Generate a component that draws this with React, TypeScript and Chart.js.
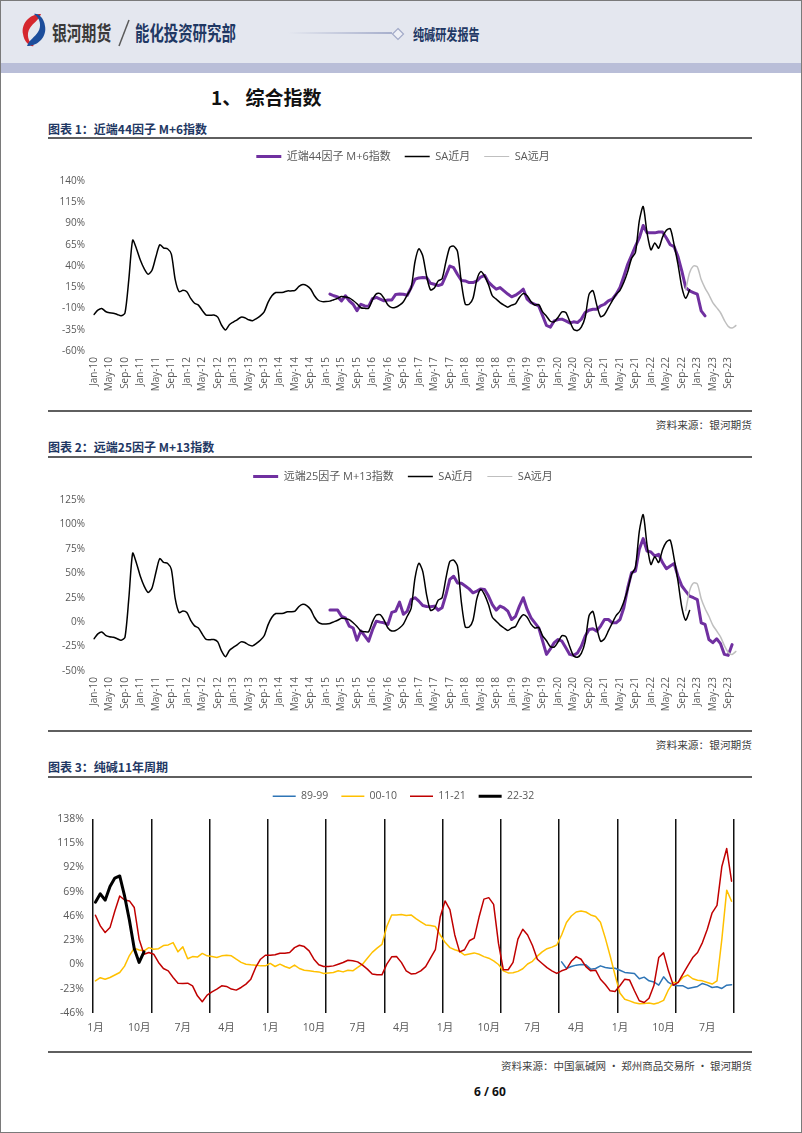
import React, { useEffect, useRef } from 'react';
import { Chart, registerables } from 'chart.js';

Chart.register(...registerables);

const LATIN_FONT = "'Open Sans', 'Noto Sans CJK SC', sans-serif";
const CJK_FONT = "'Noto Sans CJK SC', 'Open Sans', sans-serif";
const TICK_COLOR = '#595959';

// ---------- Charts 1 & 2 : monthly categories Jan-10 .. Nov-23 ----------
const MONTH_ABBR = ['Jan', 'Feb', 'Mar', 'Apr', 'May', 'Jun', 'Jul', 'Aug', 'Sep', 'Oct', 'Nov', 'Dec'];
const YEARS = ['10', '11', '12', '13', '14', '15', '16', '17', '18', '19', '20', '21', '22', '23'];
const CATEGORIES = YEARS.flatMap((y) => MONTH_ABBR.map((m) => `${m}-${y}`)).slice(0, 167);
const LABEL_EVERY = 4;

// SA近月 (%), Jan-10 .. Nov-22
const SA_NEAR = [
  -17, -12, -10, -13.5, -15, -15.5, -17, -18.5, -15.5, 24, 70.5, 60,
  46.7, 36.6, 30.3, 35, 50.8, 65, 61.2, 60.3, 54, 24, 9.8, 11.4,
  9.8, 1.9, -3.8, -6, -12.3, -17.7, -18, -17.7, -20.2, -29.7, -35.3, -29,
  -25.9, -23.3, -20.2, -20.8, -23.3, -24.3, -21.8, -18.6, -13.9, -2.8, 5, 8.8,
  8.8, 9.2, 10.7, 10.7, 11.4, 16, 18.3, 17, 12.9, 5, -0.3, -1.9,
  -1.9, -1.3, 0.3, 1.9, 4, 3.5, 2.5, -0.6, -4.4, -9.1, -9.8, -9.8,
  0.3, 7.3, 7.6, 2, -6, -9, -8.5, -6, -2, 6, 14, 45,
  60.3, 52, 28, 12, 14, 22.5, 25, 45, 62, 63.4, 57, 20,
  -5, -5, 2, 24, 33.4, 28, 18, 5, 1, -3, -6, -8.5,
  -6, -4.4, 3, 7.5, 5, -2, -6, -5.4, -14, -19, -25, -25.6,
  -20.2, -13.9, -14.8, -24.9, -34.4, -36, -32, -20, 6.6, 11, -6, -19.6,
  -17, -9, -1, 6.6, 11.4, 20.8, 33.4, 49, 56, 93, 110, 79,
  59, 67, 61, 74, 82, 84, 65, 42, 15, 2, 12,
];

// SA远月 (%), starting Oct-22
const SA_FAR_START = 153;
const SA_FAR = [12, 32, 40, 39, 24, 14, 6, -3, -9, -15, -24, -31, -33, -30];

// factor indices (%), starting Feb-15
const INDEX_START = 61;
const NEAR44_M6 = [
  7, 5, 3.7, -1, 5, -1, -5, -12.5, -5, -7,
  -7.5, 1.5, 3, 1, -1, 0, 0, 6.5, 7, 6.8,
  5.6, 14.6, 24.4, 26, 26.5, 26.3, 19.7, 18.5, 17, 18.5,
  29, 40, 38, 30, 23, 22.4, 20.5, 20.5, 22.4, 27,
  29, 21, 16.6, 12.7, 14.6, 10.7, 7, 3.7, 5.6, 8.7,
  12.7, 1, -3, -5, -7, -18.6, -30, -32, -24.5, -23,
  -22.5, -24.5, -27, -25.7, -26.5, -22.5, -14.7, -12, -10.8, -10.8,
  -7, -5, -1, 1, 6.8, 14.6, 28, 42, 52.5, 63.5,
  73, 87.7, 79, 79, 79, 80, 80, 73, 65, 62.7,
  51, 34, 14.6, 10.7, 8.7, 6.8, -12.8, -18.6,
];
const FAR25_M13 = [
  12.3, 12.3, 12.3, 6, 4.4, -4, -6, -18.5, -9, -14,
  -19.5, -8, 1, 0, -0.7, -2.4, 10, 11.3, 20.5, 8,
  11.3, 23, 25, 21.5, 17, 16, 15.7, 16.4, 12.3, 14.7,
  28, 43.8, 47, 40, 39.7, 37, 34, 30, 31.8, 34,
  33.5, 26.7, 18, 12.3, 16.4, 14.7, 11.3, 2.7, 6, 16.4,
  25, 13, 4.4, -0.7, -5.8, -19.5, -33, -27.4, -21, -17.8,
  -19.5, -26.3, -33, -34, -31.5, -24.6, -14.4, -7.5, -6.8, -9.2,
  -4, 2.7, 2.7, -0.7, -0.7, 2.7, 14.7, 35, 50.6, 52.3,
  74.5, 85.5, 72.8, 71.8, 67.7, 69.4, 61, 54.7, 57.5, 60,
  47, 37, 31.8, 26.7, 25, 23, -0.7, -2.4, -17.8, -21,
  -17, -22, -33, -34, -23,
];

// ---------- Chart 3 : 11-year cycles (132 months) ----------
const CYCLE_LEN = 132;
const CYCLE_LABELS = Array.from({ length: CYCLE_LEN }, (_, i) => `${(i % 12) + 1}月`);
const CYCLE_LABEL_EVERY = 9;
const CYCLE_GRID_EVERY = 12;

const CYCLE_89_99_START = 96;
const CYCLE_89_99 = [
  2.5, -3.8, -1.9, -0.6, 0, -0.3, -4.4, -3.8, -1.3, -2.8, -3.5, -3.5,
  -5.5, -7.5, -8, -8.5, -13.5, -12, -15.5, -16.5, -19.6, -11.7, -17, -19.6,
  -20.2, -20.2, -22.7, -21.8, -20.8, -18, -19.6, -21.8, -21.1, -22.7, -19.6, -19.2,
];
// 2000-2009 (2010 continues with SA_NEAR)
const CYCLE_00_09 = [
  -15.5, -12.5, -14, -12.3, -10, -7.6, -1.5, 8.5, 15.5, 13.7, 13, 16,
  14.5, 15, 18, 18.6, 20.8, 12, 16.7, 5.5, 7.5, 7, 10.5, 8.2,
  7.5, 6.6, 8.2, 8.8, 8.2, 5, 2, 0.3, -0.3, -0.6, -1.3, -1.3,
  1, -1.9, 0.3, -1.9, -3.5, -0.6, -3.8, -5.4, -6, -6.6, -7, -8.5,
  -8, -7.6, -6, -7, -5.4, -6, -2.8, 0.3, 6, 11.5, 15.5, 19,
  36, 47, 47, 47.5, 46.5, 47, 43.5, 40.5, 37.5, 37, 36, 28,
  21, 16, 14, 12.5, 9, 10, 11, 9.7, 7.5, 6, 3.5, 0,
  -6, -8, -7.8, -6.5, -4, 0.5, 3, 8, 12, 15, 16.5, 18.5,
  28, 39.8, 46, 49.8, 50.8, 49.8, 47, 45.5, 40, 25, 8, -10,
  -27, -33, -34.5, -36.3, -37.3, -37, -36.6, -37.5, -36.2, -34, -24, -17,
];
const CYCLE_00_10 = CYCLE_00_09.concat(SA_NEAR.slice(0, 12));
const CYCLE_11_21 = SA_NEAR.slice(12, 144);
const CYCLE_22_32 = SA_NEAR.slice(144);

function placed(start: number, values: number[], total: number): (number | null)[] {
  const out: (number | null)[] = new Array(total).fill(null);
  values.forEach((v, i) => {
    out[start + i] = v;
  });
  return out;
}

type Series = { label: string; values: (number | null)[]; color: string; width: number; legendWidth: number; tension: number };
type Layout = {
  padR: number; yWidth: number; xHeight: number;
  legendFont: number; legendPad: number; legendExtra: number; legendShift: number; boxWidth: number;
  yPad: number; xPad: number; tickFont: number;
};
type XAxis = { tick: (i: number) => string; rotation: number; offset: boolean; gridEvery: number | null };

// enlarges the space under the legend and moves the legend sideways
function legendTweak(extra: number, shift: number) {
  return {
    id: 'legendTweak',
    beforeInit(chart: any) {
      const legend = chart.legend;
      if (!legend) return;
      const fit = legend.fit;
      legend.fit = function () {
        fit.call(this);
        this.height += extra;
      };
    },
    afterLayout(chart: any) {
      const legend = chart.legend;
      if (!legend) return;
      legend.left += shift;
      legend.right += shift;
    },
  };
}

function makeConfig(labels: string[], series: Series[], y: { min: number; max: number; step: number }, L: Layout, X: XAxis): any {
  const ordered = [...series].reverse();
  const datasets = ordered.map((s) => ({
    label: s.label,
    data: s.values,
    borderColor: s.color,
    backgroundColor: s.color,
    borderWidth: s.width,
    pointRadius: 0,
    pointHoverRadius: 0,
    pointHitRadius: 0,
    tension: s.tension,
    fill: false,
    spanGaps: false,
    borderJoinStyle: 'round',
    borderCapStyle: 'round',
  }));
  const legendWidths = ordered.map((s) => s.legendWidth);
  const isGrid = (c: any) => X.gridEvery !== null && (c.index === undefined || c.index % (X.gridEvery as number) === 0);
  return {
    type: 'line',
    data: { labels, datasets },
    options: {
      responsive: false,
      animation: false,
      devicePixelRatio: 1,
      events: [],
      layout: { padding: { left: 0, right: L.padR, top: 0, bottom: 0 } },
      plugins: {
        tooltip: { enabled: false },
        legend: {
          display: true,
          position: 'top',
          reverse: true,
          labels: {
            usePointStyle: true,
            pointStyle: 'line',
            pointStyleWidth: L.boxWidth,
            boxHeight: L.legendFont,
            padding: L.legendPad,
            color: TICK_COLOR,
            font: { family: LATIN_FONT, size: L.legendFont },
            generateLabels: (chart: any) =>
              chart.data.datasets.map((ds: any, i: number) => ({
                text: ds.label,
                fillStyle: ds.borderColor,
                strokeStyle: ds.borderColor,
                lineWidth: legendWidths[i],
                pointStyle: 'line',
                rotation: 0,
                hidden: false,
                lineCap: 'butt',
                fontColor: TICK_COLOR,
                datasetIndex: i,
              })),
          },
        },
      },
      scales: {
        x: {
          type: 'category',
          offset: X.offset,
          grid: X.gridEvery
            ? {
                display: true,
                offset: true,
                drawTicks: false,
                color: (c: any) => (isGrid(c) ? '#111111' : 'rgba(0,0,0,0)'),
                lineWidth: (c: any) => (isGrid(c) ? 1.5 : 0),
              }
            : { display: false, drawTicks: false },
          border: { display: false },
          ticks: {
            autoSkip: false,
            maxRotation: X.rotation,
            minRotation: X.rotation,
            padding: L.xPad,
            color: TICK_COLOR,
            font: { family: LATIN_FONT, size: L.tickFont },
            callback: (_v: any, i: number) => X.tick(i),
          },
          afterFit: (s: any) => {
            s.height = L.xHeight;
          },
        },
        y: {
          type: 'linear',
          min: y.min,
          max: y.max,
          grid: { display: false, drawTicks: false },
          border: { display: false },
          ticks: {
            stepSize: y.step,
            padding: L.yPad,
            color: TICK_COLOR,
            font: { family: LATIN_FONT, size: L.tickFont },
            callback: (v: any) => `${v}%`,
          },
          afterFit: (s: any) => {
            s.width = L.yWidth;
          },
        },
      },
    },
    plugins: [legendTweak(L.legendExtra, L.legendShift)],
  };
}

function ChartCanvas({ left, top, width, height, build }: { left: number; top: number; width: number; height: number; build: () => any }) {
  const ref = useRef<HTMLCanvasElement | null>(null);
  useEffect(() => {
    if (!ref.current) return;
    const chart = new Chart(ref.current, build());
    return () => chart.destroy();
  }, []);
  return (
    <canvas
      ref={ref}
      width={width}
      height={height}
      style={{ position: 'absolute', left, top, width, height, display: 'block' }}
    />
  );
}

const N = CATEGORIES.length;
const monthTick = (i: number) => (i % LABEL_EVERY === 0 ? CATEGORIES[i] : '');

function chart1() {
  const series: Series[] = [
    { label: '近端44因子 M+6指数', values: placed(INDEX_START, NEAR44_M6, N), color: '#7030a0', width: 3, legendWidth: 3, tension: 0 },
    { label: 'SA近月', values: placed(0, SA_NEAR, N), color: '#000000', width: 1.5, legendWidth: 1.5, tension: 0.25 },
    { label: 'SA远月', values: placed(SA_FAR_START, SA_FAR, N), color: '#bfbfbf', width: 1.5, legendWidth: 1, tension: 0.25 },
  ];
  return makeConfig(CATEGORIES, series, { min: -60, max: 140, step: 25 },
    { padR: 24, yWidth: 54, xHeight: 46, legendFont: 11, legendPad: 14, legendExtra: 9, legendShift: 15, boxWidth: 25, yPad: 9, xPad: 6, tickFont: 10 },
    { tick: monthTick, rotation: 90, offset: false, gridEvery: null });
}

function chart2() {
  const series: Series[] = [
    { label: '远端25因子 M+13指数', values: placed(INDEX_START, FAR25_M13, N), color: '#7030a0', width: 3, legendWidth: 3, tension: 0 },
    { label: 'SA近月', values: placed(0, SA_NEAR, N), color: '#000000', width: 1.5, legendWidth: 1.5, tension: 0.25 },
    { label: 'SA远月', values: placed(SA_FAR_START, SA_FAR, N), color: '#bfbfbf', width: 1.5, legendWidth: 1, tension: 0.25 },
  ];
  return makeConfig(CATEGORIES, series, { min: -50, max: 125, step: 25 },
    { padR: 24, yWidth: 54, xHeight: 46, legendFont: 11, legendPad: 14, legendExtra: 8, legendShift: 15, boxWidth: 25, yPad: 9, xPad: 6, tickFont: 10 },
    { tick: monthTick, rotation: 90, offset: false, gridEvery: null });
}

function chart3() {
  const series: Series[] = [
    { label: '89-99', values: placed(CYCLE_89_99_START, CYCLE_89_99, CYCLE_LEN), color: '#2e75b6', width: 1.5, legendWidth: 1.5, tension: 0 },
    { label: '00-10', values: placed(0, CYCLE_00_10, CYCLE_LEN), color: '#ffc000', width: 1.5, legendWidth: 1.5, tension: 0 },
    { label: '11-21', values: placed(0, CYCLE_11_21, CYCLE_LEN), color: '#c00000', width: 1.5, legendWidth: 1.5, tension: 0 },
    { label: '22-32', values: placed(0, CYCLE_22_32, CYCLE_LEN), color: '#000000', width: 3, legendWidth: 3, tension: 0 },
  ];
  return makeConfig(CYCLE_LABELS, series, { min: -46, max: 138, step: 23 },
    { padR: 26, yWidth: 53, xHeight: 30, legendFont: 10.5, legendPad: 13, legendExtra: 7.5, legendShift: 16.5, boxWidth: 23, yPad: 9, xPad: 9, tickFont: 10.5 },
    { tick: (i) => (i % CYCLE_LABEL_EVERY === 0 ? CYCLE_LABELS[i] : ''), rotation: 0, offset: true, gridEvery: CYCLE_GRID_EVERY });
}

function Txt({ x, cy, size, weight = 400, color = '#000', scaleX = 1, children, family = CJK_FONT }: any) {
  const lh = Math.round(size * 1.4);
  return (
    <div
      style={{
        position: 'absolute', left: x, top: cy - lh / 2, height: lh, lineHeight: `${lh}px`,
        fontSize: size, fontWeight: weight, color, whiteSpace: 'nowrap', fontFamily: family,
        transform: scaleX !== 1 ? `scaleX(${scaleX})` : undefined, transformOrigin: 'left center',
      }}
    >
      {children}
    </div>
  );
}

function RightTxt({ right, cy, size, color, children }: any) {
  const lh = Math.round(size * 1.4);
  return (
    <div
      style={{
        position: 'absolute', left: right - 400, width: 400, top: cy - lh / 2, height: lh, lineHeight: `${lh}px`,
        fontSize: size, color, textAlign: 'right', whiteSpace: 'nowrap', fontFamily: CJK_FONT,
      }}
    >
      {children}
    </div>
  );
}

const Rule = ({ y }: { y: number }) => (
  <div style={{ position: 'absolute', left: 48, top: y, width: 704, height: 2, background: '#5f5f5f' }} />
);

const NAVY = '#1f3864';

export default function App() {
  return (
    <div style={{ position: 'absolute', left: 0, top: 0, width: 802, height: 1133, background: '#ffffff', overflow: 'hidden', fontFamily: CJK_FONT }}>
      {/* header */}
      <div style={{ position: 'absolute', left: 0, top: 0, width: 802, height: 63, background: '#e4e7ef' }} />
      <div style={{ position: 'absolute', left: 0, top: 63, width: 802, height: 10, background: '#b9bed8' }} />
      <svg style={{ position: 'absolute', left: 20, top: 12 }} width="28" height="36" viewBox="0 0 28 36">
        <path d="M21 2 C9 2 1 12 3 22 C4 30 10 35 14 34 C8 30 6 22 10 16 C13 11 19 8 21 2 Z" fill="#d5272e" />
        <path d="M7 34 C19 34 27 24 25 14 C24 6 18 1 14 2 C20 6 22 14 18 20 C15 25 9 28 7 34 Z" fill="#1c4d9b" />
      </svg>
      <Txt x={52} cy={33} size={20} weight={700} color="#3a3a3a" scaleX={0.74}>银河期货</Txt>
      <svg style={{ position: 'absolute', left: 115, top: 18 }} width="18" height="30">
        <line x1="14" y1="2" x2="4" y2="28" stroke="#5a5a5a" strokeWidth="1.5" />
      </svg>
      <Txt x={135} cy={33} size={20} weight={700} color={NAVY} scaleX={0.72}>能化投资研究部</Txt>
      <div style={{ position: 'absolute', left: 288, top: 32, width: 104, height: 1.5, background: 'linear-gradient(to right, #e4e7ef, #a7afcc)' }} />
      <svg style={{ position: 'absolute', left: 390, top: 26 }} width="16" height="16">
        <path d="M8 2.5 L13.5 8 L8 13.5 L2.5 8 Z" fill="#eef0f6" stroke="#a2aac8" strokeWidth="1.2" />
      </svg>
      <Txt x={413} cy={33} size={15} weight={700} color={NAVY} scaleX={0.74}>纯碱研发报告</Txt>

      {/* section title */}
      <Txt x={211} cy={96} size={19} weight={700} color="#111">1、 综合指数</Txt>

      {/* chart 1 */}
      <Txt x={48} cy={128} size={12} weight={700} color={NAVY}>图表 1：近端44因子 M+6指数</Txt>
      <Rule y={137} />
      <ChartCanvas left={40} top={137} width={720} height={260} build={chart1} />
      <Rule y={410} />
      <RightTxt right={752} cy={424} size={10.7} color="#404040">资料来源：银河期货</RightTxt>

      {/* chart 2 */}
      <Txt x={48} cy={446} size={12} weight={700} color={NAVY}>图表 2：远端25因子 M+13指数</Txt>
      <Rule y={456} />
      <ChartCanvas left={40} top={457} width={720} height={260} build={chart2} />
      <Rule y={730} />
      <RightTxt right={752} cy={744} size={10.7} color="#404040">资料来源：银河期货</RightTxt>

      {/* chart 3 */}
      <Txt x={48} cy={766} size={12} weight={700} color={NAVY}>图表 3：纯碱11年周期</Txt>
      <Rule y={776} />
      <ChartCanvas left={40} top={778} width={720} height={265} build={chart3} />
      <Rule y={1051} />
      <RightTxt right={752} cy={1065} size={10.5} color="#404040">资料来源：中国氯碱网 · 郑州商品交易所 · 银河期货</RightTxt>

      {/* page number */}
      <Txt x={474} cy={1091} size={12} weight={700} color="#111" family={LATIN_FONT}>6 / 60</Txt>

      {/* page border */}
      <div style={{ position: 'absolute', left: 0, top: 0, width: 802, height: 1133, boxSizing: 'border-box', border: '1px solid #7a7a7a', pointerEvents: 'none' }} />
    </div>
  );
}
